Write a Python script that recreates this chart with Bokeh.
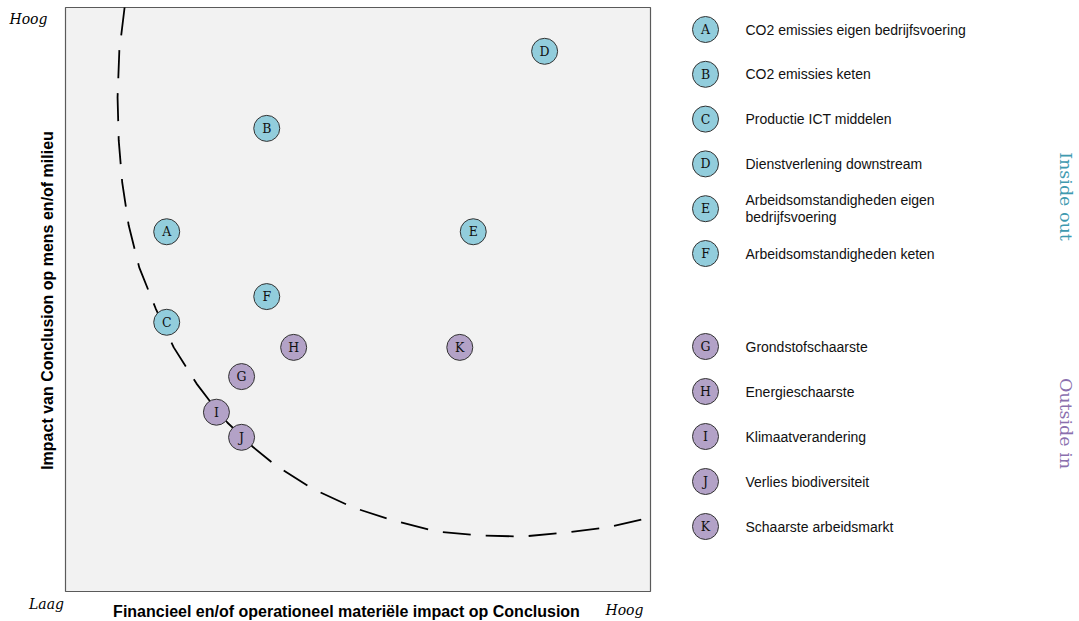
import math
from bokeh.plotting import figure
from bokeh.models import Range1d, ColumnDataSource
from bokeh.core.properties import value
from bokeh.embed import file_html
from bokeh.resources import INLINE

# ---------------- data ----------------
codes = ["A", "B", "C", "D", "E", "F", "G", "H", "I", "J", "K"]
labels = [
    "CO2 emissies eigen bedrijfsvoering",
    "CO2 emissies keten",
    "Productie ICT middelen",
    "Dienstverlening downstream",
    "Arbeidsomstandigheden eigen\nbedrijfsvoering",
    "Arbeidsomstandigheden keten",
    "Grondstofschaarste",
    "Energieschaarste",
    "Klimaatverandering",
    "Verlies biodiversiteit",
    "Schaarste arbeidsmarkt",
]
groups = ["Inside out"] * 6 + ["Outside in"] * 5
fin_impact = [1.73, 3.44, 1.73, 8.19, 6.97, 3.44, 3.01, 3.90, 2.58, 3.01, 6.74]
env_impact = [6.16, 7.93, 4.61, 9.25, 6.16, 5.05, 3.68, 4.18, 3.07, 2.64, 4.18]

threshold_x = [1.01, 0.92, 0.89, 0.91, 0.97, 1.08, 1.26, 1.54, 1.85, 2.24, 2.46, 2.77,
               3.21, 3.59, 4.22, 4.91, 5.56, 6.32, 7.06, 7.81, 8.55, 9.28, 10.0]
threshold_y = [10.0, 9.26, 8.46, 7.72, 7.00, 6.27, 5.55, 4.85, 4.18, 3.56, 3.27, 2.89,
               2.47, 2.16, 1.76, 1.44, 1.23, 1.03, 0.96, 0.94, 1.01, 1.10, 1.27]

x_title = "Financieel en/of operationeel materiële impact op Conclusion"
y_title = "Impact van Conclusion op mens en/of milieu"
low_label = "Laag"
high_label = "Hoog"

# ---------------- layout ----------------
W, H = 1079, 621
X0_PAGE, XS = 65.0, 58.5      # canvas x of chart x=0, px per unit
Y0_PAGE, YS = 591.0, 58.4     # canvas y of chart y=0, px per unit

def px2x(px):
    return (px - X0_PAGE) / XS

def py2y(py):
    return (Y0_PAGE - py) / YS

group_color = {"Inside out": "#92CDDC", "Outside in": "#B3A2C7"}
group_text_color = {"Inside out": "#3F9AB0", "Outside in": "#8A70AE"}
colors = [group_color[g] for g in groups]

p = figure(width=W, height=H, output_backend="svg", toolbar_location=None,
           x_range=Range1d(px2x(0), px2x(W)),
           y_range=Range1d(py2y(H), py2y(0)),
           min_border=0, x_axis_location=None, y_axis_location=None)
p.grid.visible = False
p.outline_line_color = None
p.background_fill_color = "white"
p.border_fill_color = "white"

# plot box
p.quad(left=[0], right=[10], bottom=[0], top=[10], fill_color="#F2F2F2",
       line_color="#5A5A5A", line_width=1.2)

# threshold curve
p.line(threshold_x, threshold_y, line_color="black", line_width=1.8, line_dash="28 15")

serif = value("DejaVu Serif")
sans = value("Liberation Sans")

src = ColumnDataSource(dict(x=fin_impact, y=env_impact, code=codes, color=colors))
p.scatter("x", "y", source=src, size=26, fill_color="color", line_color="#333333", line_width=1)
p.text("x", "y", text="code", source=src, text_align="center", text_baseline="middle",
       text_font=serif, text_font_size="12.5px", text_color="#111111")

# legend
leg_y_page = []
for i, g in enumerate(groups):
    if g == "Inside out":
        leg_y_page.append(29 + 44.8 * i)
    else:
        leg_y_page.append(346 + 45 * (i - 6))
leg_src = ColumnDataSource(dict(
    x=[px2x(705)] * len(codes), tx=[px2x(745)] * len(codes),
    y=[py2y(v) for v in leg_y_page], code=codes, label=labels, color=colors))
p.scatter("x", "y", source=leg_src, size=26, fill_color="color", line_color="#333333", line_width=1)
p.text("x", "y", text="code", source=leg_src, text_align="center", text_baseline="middle",
       text_font=serif, text_font_size="12.5px", text_color="#111111")
p.text("tx", "y", text="label", source=leg_src, text_align="left", text_baseline="middle",
       text_font=sans, text_font_size="14px", text_color="#111111", text_line_height=1.05)

# group side labels
for g, py in [("Inside out", 196), ("Outside in", 423)]:
    p.text(x=[px2x(1065)], y=[py2y(py)], text=[g], angle=-math.pi / 2,
           text_align="center", text_baseline="middle", text_font=serif,
           text_font_size="17.5px", text_color=group_text_color[g])

# axis titles
p.text(x=[px2x(346)], y=[py2y(611)], text=[x_title], text_align="center",
       text_baseline="middle", text_font=sans, text_font_size="16px",
       text_font_style="bold", text_color="black")
p.text(x=[px2x(47)], y=[py2y(300)], text=[y_title], angle=math.pi / 2,
       text_align="center", text_baseline="middle", text_font=sans,
       text_font_size="16px", text_font_style="bold", text_color="black")

# low/high markers
p.text(x=[px2x(28), px2x(46), px2x(624)], y=[py2y(18), py2y(603), py2y(609)],
       text=[high_label, low_label, high_label], text_align="center",
       text_baseline="middle", text_font=serif, text_font_size="14px",
       text_font_style="italic", text_color="black")

open("out.html", "w").write(file_html(p, INLINE))
